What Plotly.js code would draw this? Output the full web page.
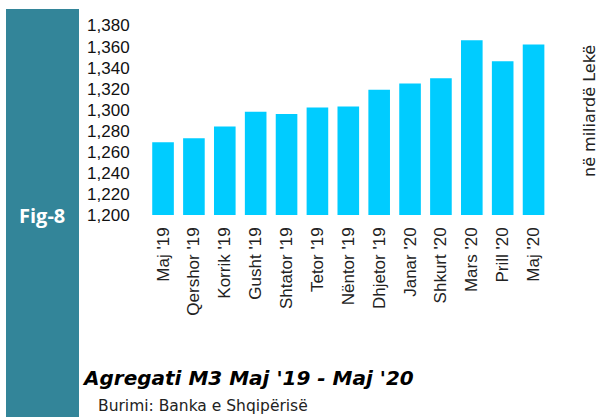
<!DOCTYPE html>
<html><head><meta charset="utf-8">
<script src="https://cdn.plot.ly/plotly-3.0.1.min.js"></script>
<style>html,body{margin:0;padding:0;background:#fff}#c{width:599px;height:417px}</style>
</head><body><div id="c"></div>
<script>
const categories = ["Maj '19","Qershor '19","Korrik '19","Gusht '19","Shtator '19","Tetor '19","Nëntor '19","Dhjetor '19","Janar '20","Shkurt '20","Mars '20","Prill '20","Maj '20"];
const m3Values = [1269, 1273, 1284, 1298, 1296, 1302, 1303, 1319, 1325, 1330, 1366, 1346, 1362];
const yTicks = [1200,1220,1240,1260,1280,1300,1320,1340,1360,1380];
const W = 599, H = 417;
const trace = {type:'bar', x:categories, y:m3Values, marker:{color:'#00CCFF'}, hoverinfo:'skip'};
const layout = {
  width:W, height:H, margin:{l:0,r:0,t:0,b:0},
  paper_bgcolor:'#fff', plot_bgcolor:'#fff', showlegend:false, bargap:0.3,
  xaxis:{domain:[147.6/W, 549/W], tickangle:-90, showline:false, ticks:'', showgrid:false,
    tickfont:{family:'Liberation Sans, Arial', size:17, color:'#222'}, ticklabelstandoff:8},
  yaxis:{domain:[(H-215)/H,(H-25.5)/H], range:[1200,1380], tickvals:yTicks, tickformat:',d',
    showgrid:false, zeroline:false, showline:false, ticks:'',
    tickfont:{family:'Liberation Sans, Arial', size:17, color:'#111'}, ticklabelstandoff:17},
  shapes:[{type:'rect', xref:'paper', yref:'paper', x0:6/W, x1:79/W, y0:0, y1:(H-9)/H,
    fillcolor:'#338599', line:{width:0}, layer:'below'}],
  annotations:[
    {xref:'paper',yref:'paper',x:42/W,y:(H-215)/H,text:'<b>Fig-8</b>',showarrow:false,
      font:{family:'Open Sans, DejaVu Sans',size:20,color:'#fff'},xanchor:'center',yanchor:'middle'},
    {xref:'paper',yref:'paper',x:589/W,y:(H-111)/H,text:'në miliardë Lekë',textangle:-90,showarrow:false,
      font:{family:'DejaVu Sans',size:16,color:'#222'},xanchor:'center',yanchor:'middle'},
    {xref:'paper',yref:'paper',x:80/W,y:(H-378)/H,text:"<b><i>Agregati M3 Maj '19 - Maj '20</i></b>",showarrow:false,
      font:{family:'DejaVu Sans',size:20,color:'#000'},xanchor:'left',yanchor:'middle'},
    {xref:'paper',yref:'paper',x:96/W,y:(H-406)/H,text:'Burimi: Banka e Shqipërisë',showarrow:false,
      font:{family:'DejaVu Sans',size:15.5,color:'#222'},xanchor:'left',yanchor:'middle'}
  ]
};
Plotly.newPlot('c',[trace],layout,{staticPlot:true,displayModeBar:false});
</script></body></html>
